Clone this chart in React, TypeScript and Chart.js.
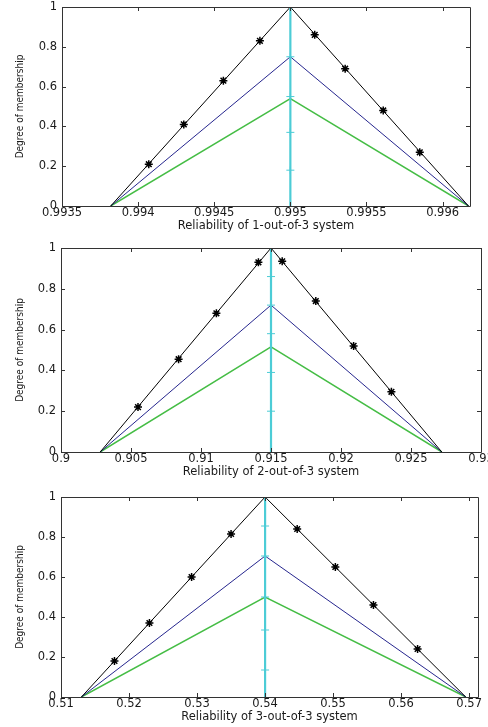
import React, { useEffect, useRef } from 'react';
import { Chart, registerables } from 'chart.js';

Chart.register(...registerables);

// ---------- shared axis data ----------
const yTicks = [0, 0.2, 0.4, 0.6, 0.8, 1];
const yTickLabels = ['0', '0.2', '0.4', '0.6', '0.8', '1'];
const verticalY = [0, 1];
const blackY = [0, 1, 0];

// ---------- panel 1: 1-out-of-3 ----------
const xTicks1 = [0.9935, 0.994, 0.9945, 0.995, 0.9955, 0.996];
const xTickLabels1 = ['0.9935', '0.994', '0.9945', '0.995', '0.9955', '0.996'];
const xRange1 = [0.9935, 0.99618];
const triangleX1 = [0.99382, 0.995, 0.99617];
const blueY1 = [0, 0.75, 0];
const greenY1 = [0, 0.54, 0];
const starX1 = [0.99407, 0.9943, 0.99456, 0.9948, 0.99516, 0.99536, 0.99561, 0.99585];
const starY1 = [0.21, 0.41, 0.63, 0.83, 0.86, 0.69, 0.48, 0.27];
const plusY1 = [0.18, 0.37, 0.55, 0.75];

// ---------- panel 2: 2-out-of-3 ----------
const xTicks2 = [0.9, 0.905, 0.91, 0.915, 0.92, 0.925, 0.93];
const xTickLabels2 = ['0.9', '0.905', '0.91', '0.915', '0.92', '0.925', '0.93'];
const xRange2 = [0.9, 0.93];
const triangleX2 = [0.9028, 0.915, 0.9272];
const blueY2 = [0, 0.72, 0];
const greenY2 = [0, 0.515, 0];
const starX2 = [0.9055, 0.9084, 0.9111, 0.9141, 0.9158, 0.9182, 0.9209, 0.9236];
const starY2 = [0.22, 0.455, 0.68, 0.93, 0.935, 0.74, 0.52, 0.295];
const plusY2 = [0.2, 0.39, 0.58, 0.72, 0.86];

// ---------- panel 3: 3-out-of-3 ----------
const xTicks3 = [0.51, 0.52, 0.53, 0.54, 0.55, 0.56, 0.57];
const xTickLabels3 = ['0.51', '0.52', '0.53', '0.54', '0.55', '0.56', '0.57'];
const xRange3 = [0.51, 0.5713];
const triangleX3 = [0.513, 0.54, 0.5695];
const blueY3 = [0, 0.705, 0];
const greenY3 = [0, 0.5, 0];
const starX3 = [0.51786, 0.523, 0.5292, 0.535, 0.54472, 0.55033, 0.55593, 0.56242];
const starY3 = [0.18, 0.37, 0.6, 0.815, 0.84, 0.65, 0.46, 0.24];
const plusY3 = [0.135, 0.335, 0.5, 0.705, 0.855];

const titles = [
  'Reliability of 1-out-of-3 system',
  'Reliability of 2-out-of-3 system',
  'Reliability of 3-out-of-3 system',
];
const yTitle = 'Degree of membership';

const panels = [
  { xTicks: xTicks1, xLabels: xTickLabels1, xRange: xRange1, triX: triangleX1, blueY: blueY1, greenY: greenY1, starX: starX1, starY: starY1, plusY: plusY1, title: titles[0] },
  { xTicks: xTicks2, xLabels: xTickLabels2, xRange: xRange2, triX: triangleX2, blueY: blueY2, greenY: greenY2, starX: starX2, starY: starY2, plusY: plusY2, title: titles[1] },
  { xTicks: xTicks3, xLabels: xTickLabels3, xRange: xRange3, triX: triangleX3, blueY: blueY3, greenY: greenY3, starX: starX3, starY: starY3, plusY: plusY3, title: titles[2] },
];

// ---------- layout (page positions) ----------
const layouts = [
  { top: -21, height: 257, padTop: 28, padRight: 18, yWidth: 48 },
  { top: 230, height: 252, padTop: 18, padRight: 7, yWidth: 47 },
  { top: 479, height: 248, padTop: 18, padRight: 10, yWidth: 47 },
];

const BLACK = '#000000';
const BLUE = '#26268e';
const GREEN = '#45bd45';
const CYAN = '#4cccd6';
const TEXT = '#1a1a1a';

const boxPlugin = {
  id: 'matlabBox',
  afterDatasetsDraw(chart: any) {
    const { ctx, chartArea } = chart;
    const { left, right, top, bottom } = chartArea;
    const xs = chart.scales.x;
    const ys = chart.scales.y;
    const L = 4;
    ctx.save();
    ctx.strokeStyle = '#333333';
    ctx.lineWidth = 1;
    ctx.beginPath();
    ctx.rect(Math.round(left) + 0.5, Math.round(top) + 0.5, Math.round(right - left), Math.round(bottom - top));
    xs.ticks.forEach((t: any) => {
      const px = Math.round(xs.getPixelForValue(t.value)) + 0.5;
      ctx.moveTo(px, bottom);
      ctx.lineTo(px, bottom - L);
      ctx.moveTo(px, top);
      ctx.lineTo(px, top + L);
    });
    ys.ticks.forEach((t: any) => {
      const py = Math.round(ys.getPixelForValue(t.value)) + 0.5;
      ctx.moveTo(left, py);
      ctx.lineTo(left + L, py);
      ctx.moveTo(right, py);
      ctx.lineTo(right - L, py);
    });
    ctx.stroke();
    ctx.restore();
  },
};

function Panel({ idx }: { idx: number }) {
  const ref = useRef<HTMLCanvasElement | null>(null);
  const p = panels[idx];
  const lay = layouts[idx];

  useEffect(() => {
    if (!ref.current) return;
    const tickFont = { family: "'DejaVu Sans', sans-serif", size: 11.5 };
    const titleFont = { family: "'DejaVu Sans', sans-serif", size: 11.5 };
    const peak = p.triX[1];
    const chart = new Chart(ref.current, {
      type: 'scatter',
      data: {
        datasets: [
          {
            data: p.starX.map((x, i) => ({ x, y: p.starY[i] })),
            showLine: false,
            pointStyle: 'star',
            pointRadius: 4,
            borderColor: BLACK,
            backgroundColor: BLACK,
            borderWidth: 1.5,
          },
          {
            data: p.plusY.map((y) => ({ x: peak, y })),
            showLine: false,
            pointStyle: 'cross',
            pointRadius: 4,
            borderColor: CYAN,
            backgroundColor: CYAN,
            borderWidth: 1,
          },
          {
            data: verticalY.map((y) => ({ x: peak, y })),
            showLine: true,
            pointRadius: 0,
            borderColor: CYAN,
            borderWidth: 2.2,
          },
          {
            data: p.triX.map((x, i) => ({ x, y: blackY[i] })),
            showLine: true,
            pointRadius: 0,
            borderColor: BLACK,
            borderWidth: 1,
          },
          {
            data: p.triX.map((x, i) => ({ x, y: p.blueY[i] })),
            showLine: true,
            pointRadius: 0,
            borderColor: BLUE,
            borderWidth: 1,
          },
          {
            data: p.triX.map((x, i) => ({ x, y: p.greenY[i] })),
            showLine: true,
            pointRadius: 0,
            borderColor: GREEN,
            borderWidth: 1.5,
          },
        ],
      },
      options: {
        animation: false,
        responsive: false,
        events: [],
        layout: { padding: { top: lay.padTop, right: lay.padRight, left: 14, bottom: 0 } },
        plugins: { legend: { display: false }, tooltip: { enabled: false } },
        scales: {
          x: {
            type: 'linear',
            min: p.xRange[0],
            max: p.xRange[1],
            afterBuildTicks: (s: any) => {
              s.ticks = p.xTicks.map((v) => ({ value: v }));
            },
            afterFit: (s: any) => {
              s.height = 30;
              s.paddingLeft = 0;
              s.paddingRight = 0;
            },
            grid: { display: false, drawTicks: false },
            border: { display: false },
            ticks: {
              padding: 0,
              autoSkip: false,
              maxRotation: 0,
              color: TEXT,
              font: tickFont,
              callback: (_v: any, i: number) => p.xLabels[i],
            },
            title: {
              display: true,
              text: p.title,
              color: TEXT,
              font: titleFont,
              padding: { top: 0, bottom: 3 },
            },
          },
          y: {
            type: 'linear',
            min: 0,
            max: 1,
            afterBuildTicks: (s: any) => {
              s.ticks = yTicks.map((v) => ({ value: v }));
            },
            afterFit: (s: any) => {
              s.width = lay.yWidth;
            },
            grid: { display: false, drawTicks: false },
            border: { display: false },
            ticks: {
              padding: 5,
              autoSkip: false,
              color: TEXT,
              font: tickFont,
              callback: (_v: any, i: number) => yTickLabels[i],
            },
            title: {
              display: true,
              text: yTitle,
              color: TEXT,
              font: { family: "'Liberation Sans Narrow', 'DejaVu Sans Condensed', sans-serif", size: 10 },
              padding: { top: 0, bottom: 2 },
            },
          },
        },
      },
      plugins: [boxPlugin],
    } as any);
    return () => chart.destroy();
  }, [idx]);

  return (
    <canvas
      ref={ref}
      width={488}
      height={lay.height}
      style={{ position: 'absolute', left: 0, top: lay.top, width: 488, height: lay.height, display: 'block' }}
    />
  );
}

export default function App() {
  return (
    <div
      style={{
        position: 'absolute',
        left: 0,
        top: 0,
        width: 488,
        height: 727,
        overflow: 'hidden',
        background: '#ffffff',
      }}
    >
      <Panel idx={0} />
      <Panel idx={1} />
      <Panel idx={2} />
    </div>
  );
}
